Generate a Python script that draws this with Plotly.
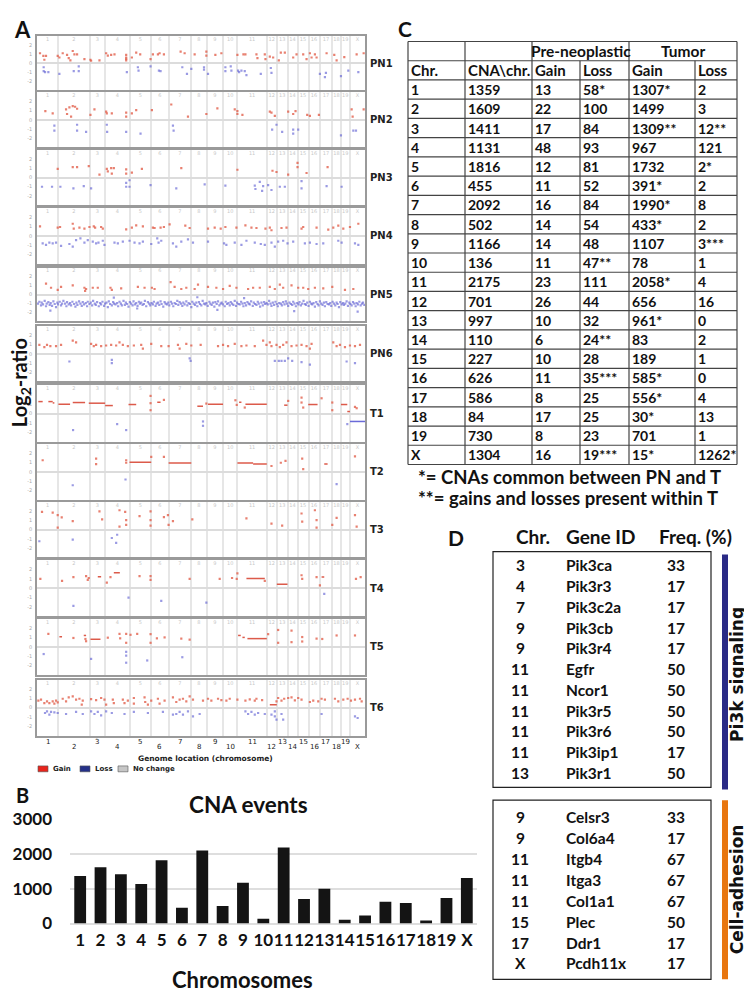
import plotly.graph_objects as go

W, H = 752, 997
def X(px): return px / W
def Y(py): return 1 - py / H

# ---------------- DATA ----------------
chrom_names = ["1","2","3","4","5","6","7","8","9","10","11","12","13","14","15","16","17","18","19","X"]
# width of each chromosome along the genome-location axis (probe index units)
chrom_span = [63, 95, 46, 73, 65, 52, 67, 47, 49, 43, 88, 30, 32, 30, 33, 33, 38, 25, 28, 45]

panel_names = ["PN1","PN2","PN3","PN4","PN5","PN6","T1","T2","T3","T4","T5","T6"]

pn1_gain = [(9,1.07),(19,0.79),(22,0.36),(27,0.79),(62,0.79),(67,0.61),(77,1.07),(90,0.89),(95,0.54),(100,0.29),
            (107,1.32),(112,0.96),(120,0.96),(142,0.43),(160,0.36),(162,0.25),(187,0.29),(207,1.07),(212,0.82),(222,0.89),
            (232,0.96),(267,0.89),(267,0.61),(267,0.46),(267,0.29),(284,0.61),(297,1.14),(309,0.96),(340,0.43),(347,0.96),
            (362,0.96),(367,1.07),(380,0.96),(430,1.25),(442,1.07),(472,0.96),(507,1.25),(507,0.82),(534,0.89),(552,1.07),
            (600,0.89),(618,0.96),(624,0.96),(657,0.96),(660,0.54),(682,0.96),(684,0.43),(697,0.71),(707,0.61),(724,0.29),
            (730,1.14),(742,1.14),(767,0.61),(777,0.96),(797,0.96),(807,0.43),(817,1.07),(822,0.61),(832,0.96),(837,0.61),
            (867,1.07),(890,0.89),(897,0.29),(920,0.64),(957,0.96),(978,1.07)]
pn1_loss = [(20,-0.46),(20,-0.89),(24,-1.0),(34,-1.0),(67,-1.18),(110,-0.89),(125,-0.36),(125,-0.89),(269,-1.0),(302,-0.46),
            (304,-0.82),(340,-0.36),(365,-0.82),(370,-0.89),(435,-0.46),(449,-1.18),(462,-0.64),(500,-0.46),(500,-0.71),(512,-1.18),
            (564,-0.46),(564,-0.89),(580,-0.36),(582,-0.82),(602,-0.82),(605,-1.0),(612,-0.82),(622,-0.89),(627,-1.32),(670,-1.18),
            (700,-0.54),(702,-1.07),(847,-1.18),(865,-1.07),(862,-1.54),(910,-1.43),(932,-0.82),(962,-1.0)]

pn2_gain = [(25,0.96),(47,0.71),(87,1.14),(90,0.64),(97,1.36),(102,0.36),(107,1.5),(114,1.43),(120,1.21),(160,0.54),
            (172,1.14),(207,0.89),(209,0.71),(224,0.71),(267,0.79),(267,0.36),(284,0.71),(297,1.07),(344,1.07),(402,1.68),
            (452,0.36),(507,0.64),(540,1.25),(592,1.14),(600,0.96),(600,0.64),(615,0.54),(697,0.89),(702,0.79),(712,0.43),
            (752,0.89),(767,0.64),(774,0.96),(809,0.54),(817,0.43),(844,0.54),(942,1.14),(945,0.36),(978,1.14)]
pn2_loss = [(52,-0.64),(52,-1.18),(120,-0.54),(120,-1.18),(147,-1.32),(209,-0.54),(210,-1.32),(267,-1.32),(310,-1.5),(407,-0.64),
            (409,-1.18),(704,-1.07),(717,-0.54),(734,-1.32),(767,-1.07),(767,-1.5),(782,-1.07),(910,-1.71),(947,-1.18),(955,-1.18)]

pn3_gain = [(62,0.96),(107,1.14),(120,1.14),(155,1.25),(187,0.32),(209,0.96),(212,0.68),(222,1.04),(224,0.43),(230,1.04),
            (267,0.89),(267,0.43),(284,0.54),(314,0.96),(432,1.04),(600,0.86),(705,0.75),(717,0.61),(752,0.32),(780,1.61),
            (780,1.14),(807,0.5),(870,1.14)]
pn3_loss = [(15,-1.0),(45,-1.0),(70,-1.0),(109,-1.18),(140,-0.93),(162,-1.18),(267,-0.57),(267,-1.0),(277,-0.29),(277,-1.0),
            (340,-0.82),(417,-1.18),(502,-0.75),(564,-0.89),(652,-0.89),(654,-1.25),(667,-0.46),(674,-1.46),(677,-0.93),(692,-0.82),
            (702,-1.36),(727,-1.0),(742,-1.0),(792,-0.39),(792,-1.18),(867,-0.93),(912,-1.0)]

pn4_gain = [(9,1.02),(62,0.88),(69,0.95),(107,1.3),(110,0.77),(127,0.88),(142,0.77),(157,0.95),(170,1.02),(174,0.88),
            (192,0.95),(197,0.77),(267,0.7),(284,0.88),(297,1.12),(317,1.02),(347,0.88),(352,0.84),(370,0.88),(380,0.95),
            (397,1.23),(444,1.09),(457,0.84),(512,0.77),(532,0.88),(550,0.77),(564,0.95),(597,0.88),(624,1.12),(642,0.88),
            (657,0.84),(684,0.77),(697,0.88),(702,0.6),(732,0.84),(747,0.88),(792,0.77),(797,0.95),(837,0.88),(872,0.67),
            (887,0.88),(902,1.09),(917,0.77),(937,0.95),(962,1.3)]
pn4_loss = [(17,-0.81),(27,-0.98),(37,-0.74),(47,-0.81),(57,-0.74),(72,-1.09),(97,-0.88),(107,-1.16),(117,-0.46),(130,-0.28),
            (142,-0.74),(152,-0.46),(167,-0.63),(177,-0.81),(184,-0.74),(197,-0.53),(202,-0.98),(232,-0.74),(242,-0.81),(257,-0.63),
            (277,-0.53),(292,-0.74),(307,-0.81),(317,-0.63),(342,-0.88),(360,-0.28),(364,-0.74),(372,-0.53),(407,-0.81),(417,-1.16),
            (432,-0.63),(452,-0.39),(467,-0.74),(512,-0.63),(560,-0.81),(567,-0.98),(592,-0.74),(612,-0.98),(627,-0.53),(652,-0.74),
            (670,-0.88),(682,-0.98),(702,-0.74),(712,-1.16),(722,-0.63),(737,-0.53),(750,-0.81),(767,-0.63),(802,-0.81),(817,-0.74),
            (837,-0.88),(857,-0.81),(902,-0.53),(912,-0.74),(952,-0.81),(962,-0.98)]

pn5_gain = [(27,1.21),(42,0.76),(62,0.52),(72,0.86),(107,1.03),(142,0.76),(144,0.41),(147,0.62),(167,0.76),(182,0.76),
            (220,0.76),(224,0.52),(252,0.69),(302,0.86),(322,0.76),(344,0.76),(352,0.62),(400,1.38),(412,0.86),(432,0.62),
            (447,0.76),(472,0.62),(482,1.1),(512,0.86),(537,0.76),(557,0.62),(577,0.97),(597,0.76),(632,0.62),(647,0.76),
            (667,0.76),(697,0.86),(712,0.62),(727,1.1),(737,0.76),(762,1.03),(782,0.76),(797,0.76),(812,0.62),(832,0.76),
            (857,0.69),(884,0.86),(922,0.52),(947,0.62)]
pn5_loss_x = [3,7,12,14,18,23,27,29,34,38,
              41,45,49,53,57,61,63,68,72,75,
              79,84,88,90,95,99,102,106,111,115,
              118,121,126,130,134,137,141,146,150,152,
              157,161,165,168,173,176,180,185,189,192,
              196,201,204,208,212,215,219,224,228,231,
              235,240,243,247,251,254,259,263,266,270,
              274,278,282,286,289,293,297,301,305,308,
              312,316,320,323,327,332,336,339,343,347,
              350,355,358,362,366,370,373,378,382,385,
              389,393,396,401,404,408,412,416,420,423,
              427,431,435,438,442,447,450,454,458,462,
              465,469,473,477,480,485,488,492,496,500,
              504,507,511,516,519,523,527,531,534,538,
              542,546,550,553,557,562,565,569,573,577,
              580,584,588,592,596,599,603,607,611,615,
              618,622,626,630,634,637,641,646,649,653,
              657,661,664,668,672,676,680,683,687,691,
              695,699,702,706,710,714,718,721,725,730,
              733,737,741,745,748,752,756,760,764,767,
              771,775,779,783,786,790,794,798,802,805,
              809,813,817,821,824,828,832,836,840,843,
              847,851,855,859,862,866,870,874,878,881,
              885,889,893,897,900,904,908,912,916,919,
              923,927,931,935,938,942,946,950,954,957,
              961,965,969,973,976,980,
              40,300,540,770,960,230,480,620]
pn5_loss_y = [-1.0,-0.8,-1.2,-0.9,-1.1,-0.7,-1.3,-1.0,-0.85,-1.15,
              -0.95,-1.25,-0.75,-1.05,-1.4,-0.9,-1.1,-0.8,-1.2,-1.0,
              -0.7,-1.0,-1.3,-0.85,-1.1,-0.95,-1.2,-0.8,-1.05,-1.35,
              -0.9,-1.15,-0.75,-1.0,-1.25,-0.85,-1.1,-0.95,-1.3,-0.8,
              -1.05,-0.9,-1.2,-0.7,-1.0,-1.15,-0.85,-1.3,-0.95,-1.1,
              -0.8,-1.25,-1.0,-0.9,-1.4,-0.75,-1.05,-1.2,-0.85,-1.0,
              -1.1,-0.95,-1.3,-0.8,-1.0,-1.2,-0.7,-1.15,-0.9,-1.05,
              -1.35,-0.85,-1.0,-1.2,-0.75,-1.1,-0.95,-1.25,-0.8,-1.0,
              -0.9,-1.15,-1.05,-0.7,-1.3,-0.85,-1.0,-1.2,-0.95,-1.1,
              -0.8,-1.25,-1.0,-0.9,-1.15,-0.75,-1.05,-1.35,-0.85,-1.0,
              -1.1,-0.9,-1.2,-0.8,-1.0,-1.3,-0.95,-1.05,-0.7,-1.15,
              -0.85,-1.0,-1.25,-0.9,-1.1,-0.75,-1.2,-0.95,-1.05,-1.4,
              -0.8,-1.0,-1.15,-0.9,-1.3,-0.85,-1.05,-1.2,-0.7,-1.0,
              -1.1,-0.95,-1.25,-0.8,-1.0,-1.15,-0.9,-1.35,-0.85,-1.05,
              -0.75,-1.2,-1.0,-0.9,-1.1,-1.3,-0.8,-1.05,-0.95,-1.2,
              -0.85,-1.0,-1.15,-0.7,-1.25,-0.9,-1.05,-1.1,-0.8,-1.0,
              -1.3,-0.95,-1.2,-0.85,-1.0,-1.1,-0.75,-1.25,-0.9,-1.05,
              -1.15,-0.8,-1.0,-1.35,-0.9,-1.2,-0.85,-1.05,-0.95,-1.1,
              -0.7,-1.0,-1.25,-0.9,-1.15,-0.8,-1.05,-1.3,-0.95,-1.0,
              -1.2,-0.85,-1.1,-0.75,-1.0,-1.25,-0.9,-1.05,-1.15,-0.8,
              -1.0,-1.3,-0.95,-1.1,-0.85,-1.2,-1.0,-0.7,-1.05,-1.15,
              -0.9,-1.25,-0.8,-1.0,-1.1,-0.95,-1.35,-0.85,-1.05,-1.2,
              -0.75,-1.0,-1.15,-0.9,-1.3,-0.85,-1.05,-1.1,-0.95,-1.25,
              -0.8,-1.0,-1.2,-0.9,-1.05,-1.4,-0.85,-1.1,-0.95,-1.15,
              -1.0,-0.75,-1.25,-0.9,-1.05,-1.2,-0.85,-1.0,-1.3,-0.95,
              -1.1,-0.8,-1.2,-1.0,-0.9,-1.15,
              -1.8,-1.55,-1.7,-1.85,-1.9,-0.35,-0.3,-0.4]

pn6_gain = [(7,0.98),(22,0.74),(30,0.98),(40,0.84),(57,0.84),(72,0.98),(107,1.44),(117,1.26),(162,1.09),(170,0.84),
            (177,0.98),(192,0.84),(207,0.91),(222,0.98),(237,0.91),(247,1.26),(257,0.98),(272,0.84),(290,0.91),(312,0.98),
            (317,0.56),(342,1.09),(372,0.84),(394,0.84),(422,0.98),(427,0.56),(447,1.09),(462,0.91),(490,0.98),(542,0.84),
            (557,0.98),(572,0.84),(592,1.09),(612,0.84),(627,0.91),(652,0.84),(677,1.44),(687,0.98),(697,1.26),(702,0.84),
            (717,0.98),(727,0.74),(737,0.98),(747,1.26),(762,0.84),(777,0.91),(792,0.98),(807,0.84),(817,0.56),(822,1.09),
            (887,1.26),(897,0.84),(907,0.98),(922,0.74),(937,0.91),(952,0.84),(967,0.98)]
pn6_loss = [(97,-0.84),(224,-0.67),(224,-1.02),(460,-0.77),(457,-0.49),(712,-0.77),(724,-0.77),(732,-0.77),(742,-0.77),(752,-0.49),
            (764,-0.77),(792,-0.91),(817,-1.19),(927,-0.84),(952,-1.02)]

t1_gain_seg = [(4,17,1.26),(34,47,1.26),(47,52,1.12),(64,99,0.98),(107,144,1.16),(155,204,1.09),(204,227,0.84),(274,297,0.95),
               (360,370,1.19),(480,497,0.77),(512,557,0.98),(605,612,1.19),(624,688,0.98),(740,750,0.88),(812,840,0.95),
               (910,929,0.95),(929,937,0.21)]
t1_loss_seg = [(937,982,-0.84)]
t1_gain = [(340,1.86),(340,1.09),(340,0.35),(380,1.44),(594,1.4),(598,0.91),(622,0.63),(752,1.33),(792,1.68),(792,1.16),
           (797,0.63),(852,1.61),(884,1.16),(884,0.35),(952,0.7),(957,0.56),(507,1.05)]
t1_loss = [(240,-1.12),(267,-1.75),(108,-1.75),(929,-1.12),(497,-0.84),(497,-1.3)]

t2_gain_seg = [(277,342,1.03),(394,462,0.93),(600,647,0.93),(647,688,0.83),(860,870,0.83)]
t2_loss_seg = []
t2_gain = [(17,1.24),(177,1.41),(177,0.83),(267,1.24),(267,0.97),(342,1.59),(380,1.59),(702,0.62),(730,0.97),(744,1.17),
           (794,1.41),(797,0.28),(952,1.66)]
t2_loss = [(265,-0.83),(107,-1.45),(897,-1.34)]

t3_gain_seg = []
t3_loss_seg = []
t3_gain = [(15,1.89),(47,1.82),(62,1.54),(74,1.3),(62,0.21),(107,0.91),(187,1.96),(195,1.09),(247,2.07),(247,0.32),
           (264,1.89),(267,1.02),(267,0.49),(307,1.44),(340,1.96),(340,1.02),(340,0.42),(380,1.33),(392,1.54),(394,0.49),
           (407,0.91),(465,1.09),(627,1.19),(702,0.63),(734,0.42),(792,1.72),(794,0.84),(832,2.07),(837,1.02),(837,0.21),
           (884,0.49),(897,1.26),(952,1.54),(957,0.32)]
t3_loss = [(7,-1.26),(107,-1.09),(240,-0.56),(224,-0.91),(237,-1.44)]

t4_gain_seg = [(230,248,1.68),(182,192,1.23),(627,682,1.05),(718,750,0.42),(852,860,1.2)]
t4_loss_seg = []
t4_gain = [(10,1.0),(75,0.8),(109,1.2),(147,1.3),(155,1.1),(152,0.9),(209,0.6),(220,1.2),(307,1.3),(340,1.3),
           (340,0.9),(457,1.0),(547,1.0),(584,1.1),(598,1.0),(600,1.6),(682,0.8),(792,1.4),(794,1.0),(837,1.2),
           (847,0.3),(955,1.0),(969,1.2)]
t4_loss = [(274,-1.0),(372,-1.35),(507,-1.55),(109,-1.9),(860,-0.6)]

t5_gain_seg = [(602,610,1.24),(615,622,1.03),(630,688,0.9),(160,190,0.83),(67,75,1.1),(140,147,1.24)]
t5_loss_seg = []
t5_gain = [(34,1.41),(109,0.97),(145,0.86),(147,0.62),(212,1.0),(247,1.41),(249,0.93),(267,1.41),(267,0.45),(280,1.31),
           (300,1.41),(340,1.38),(340,0.45),(359,0.93),(382,1.03),(432,0.9),(457,0.79),(692,1.38),(722,1.83),(722,0.45),
           (762,1.76),(762,0.52),(794,1.07),(794,0.59),(837,0.9),(854,0.86),(897,1.24),(952,1.24)]
t5_loss = [(20,-0.76),(162,-1.28),(267,-0.52),(267,-0.93),(267,-1.69),(330,-1.45),(435,-1.1)]

t6_gain_seg = [(697,718,0.32)]
t6_loss_seg = []
t6_gain = [(4,0.75),(12,0.86),(22,0.5),(30,0.68),(37,0.5),(47,0.68),(52,0.43),(57,0.75),(62,0.57),(77,0.96),
           (87,0.68),(95,1.11),(107,1.21),(117,0.86),(127,0.96),(137,0.75),(134,0.32),(162,0.93),(177,0.82),(192,1.04),
           (202,0.86),(207,0.32),(227,0.86),(230,0.5),(257,0.86),(262,0.5),(272,0.75),(290,1.04),(290,0.43),(322,1.11),
           (324,0.61),(332,0.32),(342,0.75),(362,0.96),(367,0.43),(382,0.75),(407,1.11),(417,0.61),(427,0.86),(437,0.96),
           (447,0.68),(457,1.21),(467,0.86),(497,0.75),(512,0.96),(522,0.75),(542,0.96),(552,0.82),(567,0.75),(577,0.96),
           (600,0.86),(624,0.75),(637,0.89),(652,0.75),(657,0.96),(674,0.82),(717,0.68),(722,1.04),(732,0.75),(740,0.96),
           (752,1.04),(762,1.11),(772,0.79),(782,1.04),(792,0.86),(817,0.61),(827,0.75),(842,0.68),(852,0.96),(862,0.86),
           (892,0.96),(902,0.68),(917,0.86),(930,0.96),(940,0.75),(952,0.86),(967,0.96),(972,0.68)]
t6_loss = [(24,-0.57),(30,-0.39),(37,-0.75),(42,-0.46),(52,-0.5),(62,-0.57),(87,-0.68),(117,-0.46),(137,-0.68),(162,-0.39),
           (172,-0.68),(182,-0.46),(192,-0.82),(207,-0.39),(224,-0.57),(262,-0.68),(290,-0.46),(332,-0.57),(377,-0.46),(407,-0.75),
           (417,-0.68),(427,-0.46),(437,-0.75),(452,-0.39),(467,-0.93),(487,-0.68),(624,-0.39),(632,-0.68),(642,-0.46),(652,-0.75),
           (662,-0.57),(682,-0.68),(702,-0.75),(712,-0.39),(712,-0.93),(717,-1.29),(732,-0.68),(737,-1.29),(852,-0.68),(952,-0.93),
           (960,-1.11)]

# Panel B / C data
cna_per_chr = [1359, 1609, 1411, 1131, 1816, 455, 2092, 502, 1166, 136, 2175, 701, 997, 110, 227, 626, 586, 84, 730, 1304]
pn_gain = ["13","22","17","48","12","11","16","14","14","11","23","26","10","6","10","11","8","17","8","16"]
pn_loss = ["58*","100","84","93","81","52","84","54","48","47**","111","44","32","24**","28","35***","25","25","23","19***"]
t_gain = ["1307*","1499","1309**","967","1732","391*","1990*","433*","1107","78","2058*","656","961*","83","189","585*","556*","30*","701","15*"]
t_loss = ["2","3","12**","121","2*","2","8","2","3***","1","4","16","0","2","1","0","4","13","1","1262*"]

# Panel D data
pi3k_chr = ["3","4","7","9","9","11","11","11","11","11","13"]
pi3k_gene = ["Pik3ca","Pik3r3","Pik3c2a","Pik3cb","Pik3r4","Egfr","Ncor1","Pik3r5","Pik3r6","Pik3ip1","Pik3r1"]
pi3k_freq = ["33","17","17","17","17","50","50","50","50","17","50"]
adh_chr = ["9","9","11","11","11","15","17","X"]
adh_gene = ["Celsr3","Col6a4","Itgb4","Itga3","Col1a1","Plec","Ddr1","Pcdh11x"]
adh_freq = ["33","17","67","67","67","50","17","17"]

# ---------------- FIGURE ----------------
FONT = "Lato"
RED = "rgba(226,96,76,0.8)"
BLUE = "rgba(100,100,212,0.65)"
SEG_RED = "#dc5a4a"
SEG_BLUE = "#6a6ad8"

bounds = [0]
for s in chrom_span:
    bounds.append(bounds[-1] + s)
total = bounds[-1]
centers = [(bounds[i] + bounds[i + 1]) / 2 for i in range(len(chrom_span))]

panel_tops = [17, 75, 134, 193, 254, 314, 374, 434, 493, 553, 613, 675]
panel_bots = [73, 131, 190, 250, 309, 370, 432, 491, 550, 610, 670, 732]

panel_data = [
    (pn1_gain, pn1_loss, [], []),
    (pn2_gain, pn2_loss, [], []),
    (pn3_gain, pn3_loss, [], []),
    (pn4_gain, pn4_loss, [], []),
    (pn5_gain, list(zip(pn5_loss_x, pn5_loss_y)), [], []),
    (pn6_gain, pn6_loss, [], []),
    (t1_gain, t1_loss, t1_gain_seg, t1_loss_seg),
    (t2_gain, t2_loss, t2_gain_seg, t2_loss_seg),
    (t3_gain, t3_loss, t3_gain_seg, t3_loss_seg),
    (t4_gain, t4_loss, t4_gain_seg, t4_loss_seg),
    (t5_gain, t5_loss, t5_gain_seg, t5_loss_seg),
    (t6_gain, t6_loss, t6_gain_seg, t6_loss_seg),
]

fig = go.Figure()
layout = {}
annotations = []
shapes = []

def seg_xy(segs):
    xs, ys = [], []
    for x0, x1, yv in segs:
        xs += [x0, x1, None]
        ys += [yv, yv, None]
    return xs, ys

for i, (gain, loss, gseg, lseg) in enumerate(panel_data):
    n = i + 1
    xa = "x" if n == 1 else f"x{n}"
    ya = "y" if n == 1 else f"y{n}"
    xk = "xaxis" if n == 1 else f"xaxis{n}"
    yk = "yaxis" if n == 1 else f"yaxis{n}"
    layout[xk] = dict(domain=[X(29), X(357)], anchor=ya, range=[0, total], tickvals=bounds[1:-1],
                      showticklabels=False, ticks="", showgrid=True, gridcolor="#e6e6e6", gridwidth=1.5,
                      zeroline=False, showline=True, mirror=True, linecolor="#9a9a9a", linewidth=1.5)
    layout[yk] = dict(domain=[Y(panel_bots[i]), Y(panel_tops[i])], anchor=xa, range=[-3, 3],
                      tickvals=[-2, -1, 0, 1, 2], ticktext=["-2", "-1", "0", "1", "2"], ticks="",
                      tickfont=dict(size=5, color="#aaaaaa", family="DejaVu Sans"), ticklabelstandoff=2,
                      showgrid=False, zeroline=True, zerolinecolor="#dcdcdc", zerolinewidth=2,
                      showline=True, mirror=True, linecolor="#9a9a9a", linewidth=1.5)
    # tiny chromosome numbers at top of each panel
    fig.add_trace(go.Scatter(x=centers, y=[2.6] * len(centers), text=chrom_names, mode="text",
                             textfont=dict(size=5, color="#c8c8c8", family="DejaVu Sans"),
                             xaxis=xa, yaxis=ya, hoverinfo="skip"))
    if gseg:
        sx, sy = seg_xy(gseg)
        fig.add_trace(go.Scatter(x=sx, y=sy, mode="lines", line=dict(color=SEG_RED, width=1.5),
                                 xaxis=xa, yaxis=ya, hoverinfo="skip"))
    if lseg:
        sx, sy = seg_xy(lseg)
        fig.add_trace(go.Scatter(x=sx, y=sy, mode="lines", line=dict(color=SEG_BLUE, width=1.5),
                                 xaxis=xa, yaxis=ya, hoverinfo="skip"))
    fig.add_trace(go.Scatter(x=[p[0] for p in gain], y=[p[1] for p in gain], mode="markers",
                             marker=dict(color=RED, size=2.2, symbol="square", line=dict(width=0)),
                             xaxis=xa, yaxis=ya, hoverinfo="skip"))
    fig.add_trace(go.Scatter(x=[p[0] for p in loss], y=[p[1] for p in loss], mode="markers",
                             marker=dict(color=BLUE, size=2.2, symbol="square", line=dict(width=0)),
                             xaxis=xa, yaxis=ya, hoverinfo="skip"))
    annotations.append(dict(text=f"<b>{panel_names[i]}</b>", x=X(360), y=Y((panel_tops[i] + panel_bots[i]) / 2),
                            xref="paper", yref="paper", xanchor="left", yanchor="middle", showarrow=False,
                            font=dict(family="DejaVu Sans", size=10, color="#222")))

# bottom chromosome labels of panel A
for k, (name, c) in enumerate(zip(chrom_names, centers)):
    annotations.append(dict(text=name, x=c, xref="x12", y=Y(739 if k % 2 == 0 else 744), yref="paper",
                            xanchor="center", yanchor="middle", showarrow=False,
                            font=dict(family="DejaVu Sans", size=7, color="#222")))
annotations.append(dict(text="<b>Genome location (chromosome)</b>", x=X(197), y=Y(755), xref="paper", yref="paper",
                        showarrow=False, xanchor="center", yanchor="middle",
                        font=dict(family="DejaVu Sans", size=7.5, color="#222")))
# legend of panel A
for (bx, col, label) in [(30, "#e8241c", "Gain"), (72, "#243088", "Loss"), (110, "#c6c6c6", "No change")]:
    shapes.append(dict(type="rect", xref="paper", yref="paper", x0=X(bx), x1=X(bx + 10), y0=Y(769), y1=Y(763),
                       fillcolor=col, line=dict(color="#555", width=0.6)))
    annotations.append(dict(text=f"<b>{label}</b>", x=X(bx + 13), y=Y(766), xref="paper", yref="paper",
                            xanchor="left", yanchor="middle", showarrow=False,
                            font=dict(family="DejaVu Sans", size=7, color="#222")))
annotations.append(dict(text="<b>Log<sub>2</sub>-ratio</b>", x=X(12), y=Y(372), xref="paper", yref="paper",
                        textangle=-90, showarrow=False, xanchor="center", yanchor="middle",
                        font=dict(family=FONT, size=20, color="#111")))

# ---------------- Panel B ----------------
fig.add_trace(go.Bar(x=chrom_names, y=cna_per_chr, marker=dict(color="#141414", line=dict(width=0)),
                     width=0.58, xaxis="x13", yaxis="y13", hoverinfo="skip"))
layout["xaxis13"] = dict(domain=[X(62), X(469)], anchor="y13", type="category", ticks="", showline=False,
                         showgrid=False, zeroline=False, tickangle=0,
                         tickfont=dict(family=FONT, size=17, color="#111", weight="bold"), ticklabelstandoff=4)
layout["yaxis13"] = dict(domain=[Y(924), Y(817)], anchor="x13", range=[0, 3000], tickvals=[0, 1000, 2000, 3000],
                         ticks="", showline=False, showgrid=True, gridcolor="#dedede", gridwidth=1.5,
                         zeroline=True, zerolinecolor="#dedede", zerolinewidth=1.5,
                         tickfont=dict(family=FONT, size=17, color="#111", weight="bold"), ticklabelstandoff=17)
annotations.append(dict(text="<b>CNA events</b>", x=X(240), y=Y(802), xref="paper", yref="paper", showarrow=False,
                        xanchor="center", yanchor="middle", font=dict(family=FONT, size=22.5, color="#111")))
annotations.append(dict(text="<b>Chromosomes</b>", x=X(234), y=Y(981), xref="paper", yref="paper", showarrow=False,
                        xanchor="center", yanchor="middle", font=dict(family=FONT, size=22, color="#111")))

# ---------------- Panel labels ----------------
for lab, lx, ly, sz in [("A", 14, 11, 22), ("B", 14, 793, 20), ("C", 397, 10, 21), ("D", 448, 530, 21)]:
    annotations.append(dict(text=f"<b>{lab}</b>", x=X(lx), y=Y(ly), xref="paper", yref="paper", showarrow=False,
                            xanchor="center", yanchor="middle", font=dict(family=FONT, size=sz, color="#111")))

# ---------------- Panel C (table) ----------------
col_x = [400, 457, 524, 572, 621, 687, 729]
t_top, row_h, n_rows = 23, 19.64, 22
LC = "#444"
for k in range(n_rows + 1):
    yy = t_top + k * row_h
    shapes.append(dict(type="line", xref="paper", yref="paper", x0=X(col_x[0]), x1=X(col_x[-1]), y0=Y(yy), y1=Y(yy),
                       line=dict(color=LC, width=1.2)))
t_bot = t_top + n_rows * row_h
for cx in [400, 457, 524, 621, 729]:
    shapes.append(dict(type="line", xref="paper", yref="paper", x0=X(cx), x1=X(cx), y0=Y(t_top), y1=Y(t_bot),
                       line=dict(color=LC, width=1.2)))
for cx in [572, 687]:
    shapes.append(dict(type="line", xref="paper", yref="paper", x0=X(cx), x1=X(cx), y0=Y(t_top + row_h), y1=Y(t_bot),
                       line=dict(color=LC, width=1.2)))

def cell(text, x, yc, anchor="left", size=14, family=FONT):
    annotations.append(dict(text=f"<b>{text}</b>", x=X(x), y=Y(yc), xref="paper", yref="paper", showarrow=False,
                            xanchor=anchor, yanchor="middle", font=dict(family=family, size=size, color="#111")))

cell("Pre-neoplastic", 572.5, t_top + 0.5 * row_h, "center", 15.5)
cell("Tumor", 675, t_top + 0.5 * row_h, "center", 15.5)
for j, h in enumerate(["Chr.", "CNA\\chr.", "Gain", "Loss", "Gain", "Loss"]):
    cell(h, col_x[j] + 1, t_top + 1.5 * row_h, size=15)
for r in range(len(chrom_names)):
    yc = t_top + (r + 2.5) * row_h
    vals = [chrom_names[r], str(cna_per_chr[r]), pn_gain[r], pn_loss[r], t_gain[r], t_loss[r]]
    for j, v in enumerate(vals):
        cell(v, col_x[j] + 1, yc, size=14)
cell("*= CNAs common between PN and T", 408, 468, size=18.5)
cell("**= gains and losses present within T", 408, 489, size=18.5)

# ---------------- Panel D ----------------
cell("Chr.", 506, 529, size=19)
cell("Gene ID", 556, 529, size=19)
cell("Freq. (%)", 649, 529, size=19)
for (top, bot) in [(544, 785), (798, 981)]:
    shapes.append(dict(type="rect", xref="paper", yref="paper", x0=X(485), x1=X(703), y0=Y(bot), y1=Y(top),
                       line=dict(color="#222", width=1.2)))
for k in range(len(pi3k_gene)):
    yc = 558 + k * 21.2
    cell(pi3k_chr[k], 512, yc, "center", 15.5)
    cell(pi3k_gene[k], 556, yc, "left", 15.5)
    cell(pi3k_freq[k], 668, yc, "center", 15.5)
for k in range(len(adh_gene)):
    yc = 815 + k * 21.4
    cell(adh_chr[k], 512, yc, "center", 15.5)
    cell(adh_gene[k], 556, yc, "left", 15.5)
    cell(adh_freq[k], 668, yc, "center", 15.5)
shapes.append(dict(type="rect", xref="paper", yref="paper", x0=X(714), x1=X(720), y0=Y(787), y1=Y(547),
                   fillcolor="#2a2a86", line=dict(width=0)))
shapes.append(dict(type="rect", xref="paper", yref="paper", x0=X(714), x1=X(720), y0=Y(981), y1=Y(798),
                   fillcolor="#e8760f", line=dict(width=0)))
annotations.append(dict(text="<b>Pi3k signaling</b>", x=X(729), y=Y(670), xref="paper", yref="paper", textangle=-90,
                        showarrow=False, xanchor="center", yanchor="middle",
                        font=dict(family="DejaVu Sans", size=17, color="#111")))
annotations.append(dict(text="<b>Cell-adhesion</b>", x=X(729), y=Y(889), xref="paper", yref="paper", textangle=-90,
                        showarrow=False, xanchor="center", yanchor="middle",
                        font=dict(family="DejaVu Sans", size=17, color="#111")))

fig.update_layout(width=W, height=H, margin=dict(l=0, r=0, t=0, b=0), paper_bgcolor="white",
                  plot_bgcolor="white", showlegend=False, font=dict(family=FONT),
                  annotations=annotations, shapes=shapes, bargap=0.42, **layout)
fig.write_html("out.html")
